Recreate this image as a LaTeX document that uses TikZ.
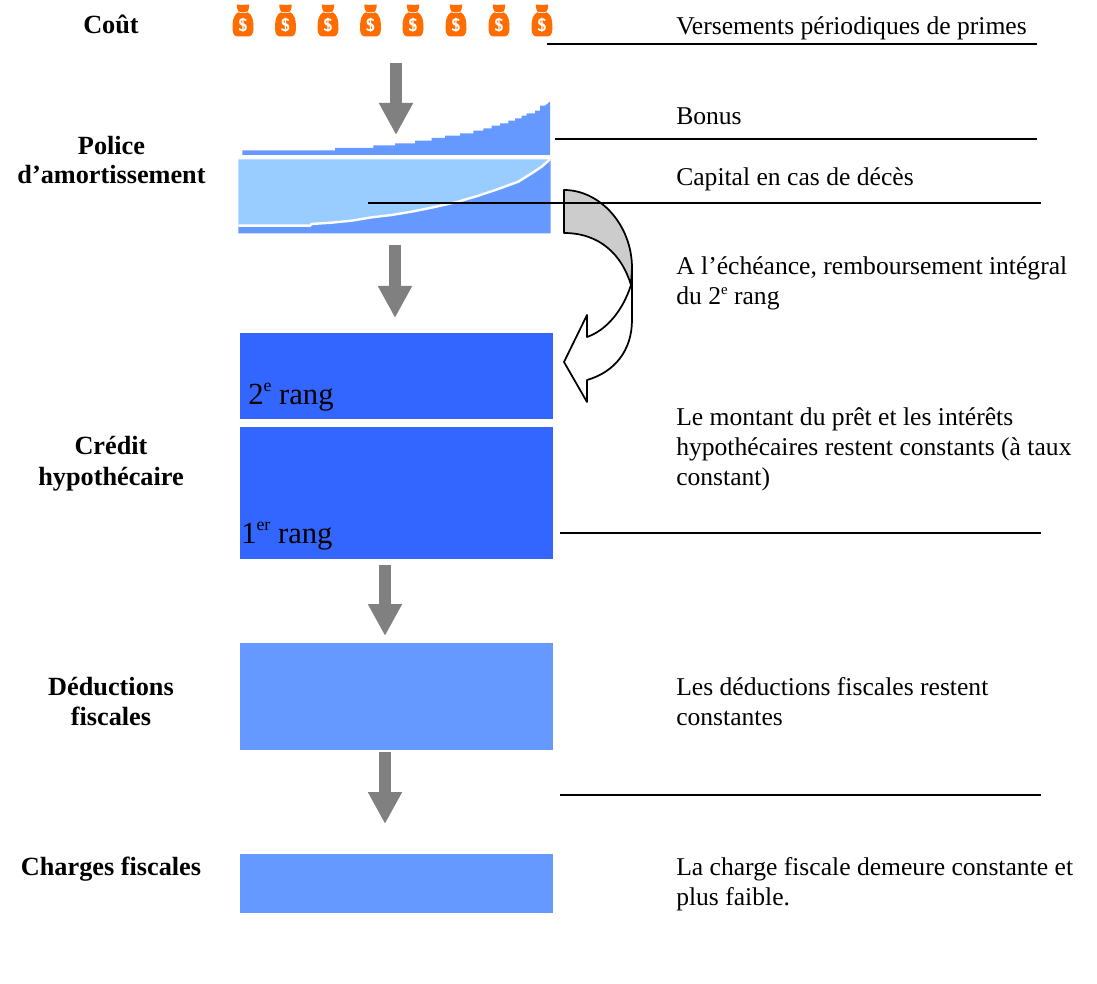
\documentclass[tikz,border=0pt]{standalone}
\usepackage{fontspec}
\setmainfont{Liberation Serif}
\usepackage{tikz}
\usetikzlibrary{arrows.meta}
\definecolor{darkblue}{HTML}{3366FF}
\definecolor{midblue}{HTML}{6699FF}
\definecolor{lightblue}{HTML}{99CCFF}
\definecolor{baggold}{HTML}{FF6D00}
\definecolor{arrowgray}{HTML}{808080}
\definecolor{curvegray}{HTML}{CCCCCC}
\newcommand{\smallsup}[1]{\raisebox{.42em}{\scalebox{.58}{#1}}}
\tikzset{
  bodytext/.style={anchor=base west,inner sep=0pt,font=\fontsize{19.2}{22}\selectfont},
  headtext/.style={anchor=base,inner sep=0pt,font=\fontsize{19.7}{22}\selectfont\bfseries},
  ranktext/.style={anchor=base west,inner sep=0pt,font=\fontsize{23}{26}\selectfont},
  block/.style={anchor=north west,inner sep=0pt,minimum width=234.75pt},
  leader/.style={draw=black,line width=1.2pt},
  downarrow/.style={draw=arrowgray,line width=9pt,-{Triangle[length=24pt,width=24pt]}},
  bag/.pic={
    \fill[baggold] (-6,-16) .. controls (-4,-15) and (-2,-16.5) .. (0,-15.5)
      .. controls (2,-16.5) and (4,-15) .. (6,-16)
      .. controls (6.5,-12) and (5,-10) .. (4.2,-8.5)
      .. controls (9,-6.5) and (10.5,-1) .. (10.5,8)
      .. controls (10.5,14) and (8,16) .. (5,16) -- (-5,16)
      .. controls (-8,16) and (-10.5,14) .. (-10.5,8)
      .. controls (-10.5,-1) and (-9,-6.5) .. (-4.2,-8.5)
      .. controls (-5,-10) and (-6.5,-12) .. (-6,-16) -- cycle;
    \draw[white,line width=.5pt] (-4.5,-8.5) .. controls (-2,-7.5) and (2,-7.5) .. (4.5,-8.5);
    \node[text=white,inner sep=0pt,font=\sffamily\bfseries\fontsize{13.5}{13}\selectfont] at (0,4.5) {\$};
  }
}
\begin{document}
\begin{tikzpicture}[x=.75pt,y=-.75pt]
\useasboundingbox (0,0) rectangle (1097,984);
% money bags
\foreach \i/\bx in {1/243,2/285.5,3/328,4/370.5,5/413,6/456,7/499,8/542}
  \pic (bag\i) at (\bx,20.5) {bag};
% bonus block
\begin{scope}[shift={(225,90)},x=.25pt,y=-.25pt]
\fill[midblue] (52,195) -- (52,181) -- (330,181) -- (330,174) -- (445,174) -- (445,166)
  -- (510,166) -- (510,160) -- (570,160) -- (570,152) -- (620,152) -- (620,144)
  -- (660,144) -- (660,137) -- (705,137) -- (705,130) -- (745,130) -- (745,122)
  -- (775,122) -- (775,115) -- (800,115) -- (800,107) -- (825,107) -- (825,100)
  -- (850,100) -- (850,92) -- (870,92) -- (870,85) -- (890,85) -- (890,77)
  -- (905,77) -- (905,70) -- (930,70) -- (930,62) -- (945,62) -- (945,47)
  -- (960,47) -- (975,35) -- (975,195) -- cycle;
% capital block
\fill[lightblue] (40,202) -- (40,407) -- (255,407) -- (260,402) -- (320,398) -- (380,392)
  -- (440,382) -- (500,375) -- (560,365) -- (620,353) -- (700,335) -- (760,317)
  -- (820,297) -- (880,275) -- (920,250) -- (950,230) -- (975,208) -- (40,208) -- cycle;
\fill[midblue] (40,407) -- (255,407) -- (260,402) -- (320,398) -- (380,392)
  -- (440,382) -- (500,375) -- (560,365) -- (620,353) -- (700,335) -- (760,317)
  -- (820,297) -- (880,275) -- (920,250) -- (950,230) -- (977,208) -- (977,430) -- (40,430) -- cycle;
\draw[white,line width=1.8pt] (40,407) -- (255,407) -- (260,402) -- (320,398) -- (380,392)
  -- (440,382) -- (500,375) -- (560,365) -- (620,353) -- (700,335) -- (760,317)
  -- (820,297) -- (880,275) -- (920,250) -- (950,230) -- (975,208);
\end{scope}
% blocks
\node[block,fill=darkblue,minimum height=64.5pt] (rangb) at (240,333) {};
\node[block,fill=darkblue,minimum height=99pt] (ranga) at (240,427) {};
\node[block,fill=midblue,minimum height=80.25pt] (deduc) at (240,643) {};
\node[block,fill=midblue,minimum height=44.25pt] (charge) at (240,854) {};
% down arrows
\coordinate (a1s) at (396,63);  \coordinate (a1e) at (396,135);
\coordinate (a2s) at (395,245); \coordinate (a2e) at (395,318);
\coordinate (a3s) at (385,565); \coordinate (a3e) at (385,636);
\coordinate (a4s) at (385,752); \coordinate (a4e) at (385,824);
\draw[downarrow] (a1s) -- (a1e);
\draw[downarrow] (a2s) -- (a2e);
\draw[downarrow] (a3s) -- (a3e);
\draw[downarrow] (a4s) -- (a4e);
% curved arrow
\fill[white] (631,285) .. controls (623,310) and (607,330) .. (587,337) -- (587,315)
  -- (564,362) -- (587,402) -- (587,380) .. controls (615,372) and (632,350) .. (632,320) -- (632,268) -- cycle;
\filldraw[fill=curvegray,draw=black,line width=1.3pt,line join=round]
  (564,190) .. controls (600,190) and (632,225) .. (632,268) -- (631,285)
  .. controls (622,255) and (600,233) .. (564,233) -- cycle;
\draw[black,line width=1.3pt,line join=round]
  (631,285) .. controls (623,310) and (607,330) .. (587,337) -- (587,315)
  -- (564,362) -- (587,402) -- (587,380) .. controls (615,372) and (632,350) .. (632,320) -- (632,268);
% leader lines
\coordinate (l1s) at (547,44);  \coordinate (l1e) at (1037,44);
\coordinate (l2s) at (555,139); \coordinate (l2e) at (1037,139);
\coordinate (l3s) at (368,203); \coordinate (l3e) at (1041,203);
\coordinate (l4s) at (560,533); \coordinate (l4e) at (1041,533);
\coordinate (l5s) at (560,795); \coordinate (l5e) at (1041,795);
\draw[leader] (l1s) -- (l1e);
\draw[leader] (l2s) -- (l2e);
\draw[leader] (l3s) -- (l3e);
\draw[leader] (l4s) -- (l4e);
\draw[leader] (l5s) -- (l5e);
% rank labels
\node[ranktext] (t2r) at (248,404.5) {2\smallsup{e} rang};
\node[ranktext] (t1r) at (241,543.5) {1\smallsup{er} rang};
% left labels
\node[headtext] (h1) at (111,34) {Coût};
\node[headtext] (h2) at (111.5,155) {Police};
\node[headtext] (h3) at (111.5,184) {d’amortissement};
\node[headtext] (h4) at (111,455) {Crédit};
\node[headtext] (h5) at (111,485) {hypothécaire};
\node[headtext] (h6) at (111,695) {Déductions};
\node[headtext] (h7) at (111,725) {fiscales};
\node[headtext] (h8) at (111,875) {Charges fiscales};
% right labels
\node[bodytext] (b1) at (676,35) {Versements périodiques de primes};
\node[bodytext] (b2) at (676,125) {Bonus};
\node[bodytext] (b3) at (676,186) {Capital en cas de décès};
\node[bodytext] (b4) at (676,275) {A l’échéance, remboursement intégral};
\node[bodytext] (b5) at (676,305) {du 2\smallsup{e} rang};
\node[bodytext] (b6) at (676,425.5) {Le montant du prêt et les intérêts};
\node[bodytext] (b7) at (676,455.5) {hypothécaires restent constants (à taux};
\node[bodytext] (b8) at (676,485) {constant)};
\node[bodytext] (b9) at (676,695) {Les déductions fiscales restent};
\node[bodytext] (b10) at (676,725) {constantes};
\node[bodytext] (b11) at (676,875) {La charge fiscale demeure constante et};
\node[bodytext] (b12) at (676,905) {plus faible.};
\end{tikzpicture}
\end{document}
